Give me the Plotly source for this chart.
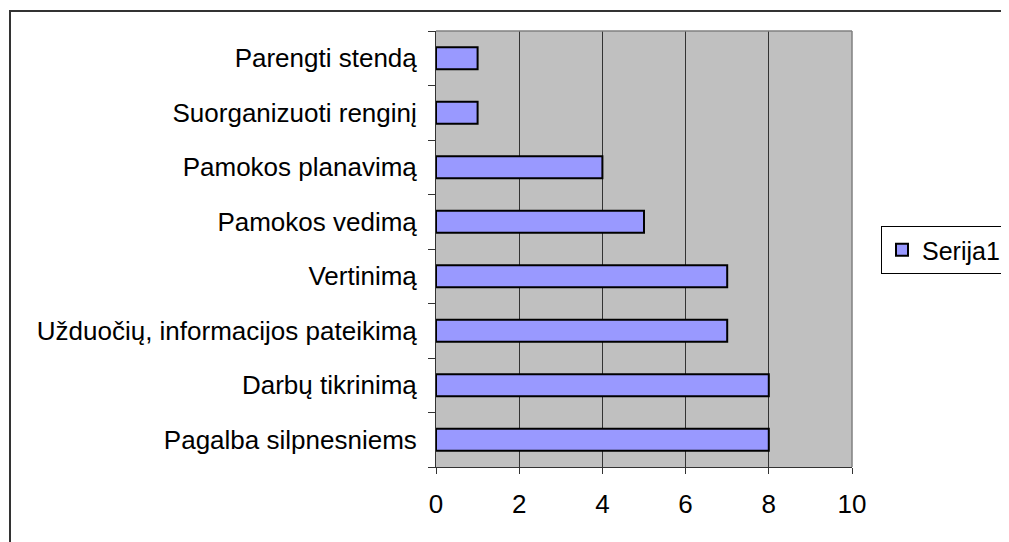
import plotly.graph_objects as go

categories = [
    "Pagalba silpnesniems",
    "Darbų tikrinimą",
    "Užduočių, informacijos pateikimą",
    "Vertinimą",
    "Pamokos vedimą",
    "Pamokos planavimą",
    "Suorganizuoti renginį",
    "Parengti stendą",
]
values = [8, 8, 7, 7, 5, 4, 1, 1]
series_name = "Serija1"
x_ticks = [0, 2, 4, 6, 8, 10]

# page body has an 8px margin, so the figure is laid out in page coords minus 8
OFF = 8
W, H = 1009 - OFF, 542 - OFF
L, R, T, B = 436 - OFF, 852 - OFF, 31 - OFF, 467 - OFF
pw, ph = R - L, B - T

def px_x(p):
    return (p - OFF - L) / pw

def px_y(p):
    return (B - (p - OFF)) / ph

fig = go.Figure()
fig.add_trace(go.Bar(
    y=categories, x=values, orientation="h", name=series_name,
    marker=dict(color="#9999ff", line=dict(color="#000000", width=2)),
    showlegend=True,
))

font = dict(family="Liberation Sans, Arial, sans-serif", size=26, color="#000000")
legend_font = dict(family="Liberation Sans, Arial, sans-serif", size=25, color="#000000")

fig.update_layout(
    width=W, height=H,
    margin=dict(l=L, r=W - R, t=T, b=H - B, pad=0, autoexpand=False),
    paper_bgcolor="#ffffff",
    plot_bgcolor="#c0c0c0",
    font=font,
    bargap=0.6,
    showlegend=True,
    legend=dict(
        x=px_x(881), y=px_y(226), xanchor="left", yanchor="top",
        bordercolor="#000000", borderwidth=1, bgcolor="#ffffff",
        font=legend_font,
    ),
    xaxis=dict(
        range=[0, 10], tickvals=x_ticks, ticktext=[str(v) for v in x_ticks],
        showgrid=True, gridcolor="#333333", gridwidth=1,
        showline=True, linecolor="#333333", linewidth=1,
        ticks="outside", ticklen=6, tickcolor="#333333",
        zeroline=False, ticklabelstandoff=8,
        automargin=False, fixedrange=True,
    ),
    yaxis=dict(
        type="category", categoryorder="array", categoryarray=categories,
        showgrid=False,
        showline=True, linecolor="#333333", linewidth=1,
        ticks="outside", ticklen=7, tickcolor="#333333", tickson="boundaries",
        ticklabelstandoff=13,
        automargin=False, fixedrange=True,
    ),
    shapes=[
        # plot area top and right border
        dict(type="line", xref="paper", yref="paper", x0=0, x1=1, y0=1, y1=1,
             line=dict(color="#808080", width=1.5)),
        dict(type="line", xref="paper", yref="paper", x0=1, x1=1, y0=0, y1=1,
             line=dict(color="#808080", width=1.5)),
        # outer chart border (extends past canvas at right and bottom)
        dict(type="rect", xref="paper", yref="paper",
             x0=px_x(10), x1=px_x(1030), y0=px_y(11), y1=px_y(570),
             line=dict(color="#333333", width=2), fillcolor="rgba(0,0,0,0)", layer="above"),
    ],
)

fig.write_html("out.html")
